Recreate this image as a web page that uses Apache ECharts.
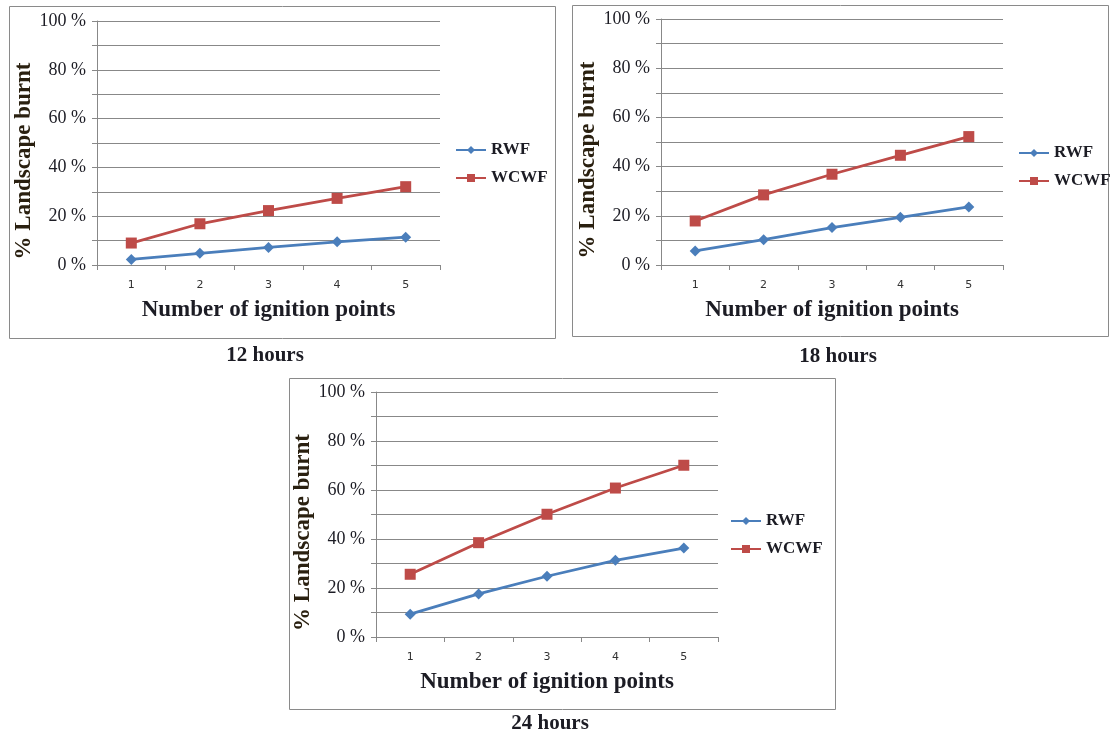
<!DOCTYPE html>
<html>
<head>
<meta charset="utf-8">
<script src="https://cdn.jsdelivr.net/npm/echarts@6/dist/echarts.min.js"></script>
<style>
html,body{margin:0;padding:0;background:#fff;}
#main{width:1111px;height:738px;}
</style>
</head>
<body>
<div id="main"></div>
<script>
// ---- data ----
var categories = ['1', '2', '3', '4', '5'];
var panelTitles = ['12 hours', '18 hours', '24 hours'];
var seriesNames = ['RWF', 'WCWF'];
var rwf12 = [2.3, 4.8, 7.2, 9.5, 11.4];
var wcwf12 = [9.0, 16.9, 22.3, 27.3, 32.1];
var rwf18 = [5.7, 10.3, 15.2, 19.4, 23.6];
var wcwf18 = [17.9, 28.5, 36.9, 44.6, 52.2];
var rwf24 = [9.3, 17.6, 24.8, 31.3, 36.3];
var wcwf24 = [25.6, 38.5, 50.1, 60.8, 70.1];
var yTicks = [0, 20, 40, 60, 80, 100];
var yTitle = '% Landscape burnt';
var xTitle = 'Number of ignition points';

// ---- layout ----
var panels = [
  {grid: {left: 97, top: 21, width: 343, height: 244}, frame: [7, 4, 546, 332], legend: [455, 150], caption: [265, 356], rwf: rwf12, wcwf: wcwf12},
  {grid: {left: 661, top: 19, width: 342, height: 246}, frame: [570, 3, 536, 331], legend: [1018, 153], caption: [838, 357], rwf: rwf18, wcwf: wcwf18},
  {grid: {left: 376, top: 392, width: 342, height: 245}, frame: [287, 376, 546, 331], legend: [730, 521], caption: [550, 724], rwf: rwf24, wcwf: wcwf24}
];

var SERIF = '"Liberation Serif", "Times New Roman", serif';
var TXT = '#1c1c24';
var GRIDC = '#888888';
var BLUE = '#4a7ebb';
var RED = '#be4b48';

var grids = [], xAxes = [], yAxes = [], series = [], legends = [], graphics = [];
panels.forEach(function (p, i) {
  grids.push(p.grid);
  xAxes.push({
    type: 'category', gridIndex: i, data: categories, boundaryGap: true,
    axisLine: {lineStyle: {color: GRIDC, width: 1}},
    axisTick: {show: true, length: 5, lineStyle: {color: GRIDC}},
    axisLabel: {color: '#333', fontFamily: 'DejaVu Sans, sans-serif', fontSize: 11, margin: 15},
    name: xTitle, nameLocation: 'middle', nameGap: 34,
    nameTextStyle: {fontFamily: SERIF, fontWeight: 'bold', fontSize: 23, color: TXT}
  });
  yAxes.push({
    type: 'value', gridIndex: i, min: 0, max: 100, interval: 10,
    axisLine: {show: true, lineStyle: {color: GRIDC, width: 1}},
    axisTick: {show: true, length: 5, inside: false, lineStyle: {color: GRIDC}},
    splitLine: {show: true, lineStyle: {color: GRIDC, width: 1}},
    axisLabel: {
      color: TXT, fontFamily: SERIF, fontSize: 18, margin: 11,
      formatter: function (v) { return yTicks.indexOf(v) >= 0 ? v + ' %' : ''; }
    },
    name: yTitle, nameLocation: 'middle', nameGap: 60, nameRotate: 90,
    nameTextStyle: {fontFamily: SERIF, fontWeight: 'bold', fontSize: 23, color: '#2a2010', padding: [0, 36, 0, 0]}
  });
  series.push({
    name: seriesNames[0], type: 'line', xAxisIndex: i, yAxisIndex: i, data: p.rwf,
    symbol: 'diamond', symbolSize: 11, color: BLUE,
    lineStyle: {width: 2.8, color: BLUE}, itemStyle: {color: BLUE}, animation: false
  });
  series.push({
    name: seriesNames[1], type: 'line', xAxisIndex: i, yAxisIndex: i, data: p.wcwf,
    symbol: 'rect', symbolSize: 11, color: RED,
    lineStyle: {width: 2.8, color: RED}, itemStyle: {color: RED}, animation: false
  });
  [0, 1].forEach(function (k) {
    legends.push({
      data: [seriesNames[k]], left: p.legend[0], top: p.legend[1] + k * 28 - 10,
      orient: 'vertical', padding: 0, itemWidth: 30, itemHeight: 10, itemGap: 6,
      selectedMode: false,
      textStyle: {fontFamily: SERIF, fontWeight: 'bold', fontSize: 17, color: TXT, lineHeight: 20}
    });
  });
  graphics.push({
    type: 'rect', left: p.frame[0], top: p.frame[1], silent: true, z: -10,
    shape: {width: p.frame[2], height: p.frame[3]},
    style: {fill: 'none', stroke: '#8a8a8a', lineWidth: 1}
  });
  graphics.push({
    type: 'text', x: p.caption[0], y: p.caption[1], silent: true,
    style: {text: panelTitles[i], font: 'bold 21px ' + SERIF, fill: TXT, textAlign: 'center', textVerticalAlign: 'middle'}
  });
});

var chart = echarts.init(document.getElementById('main'), null, {renderer: 'canvas'});
chart.setOption({
  animation: false,
  backgroundColor: '#ffffff',
  grid: grids, xAxis: xAxes, yAxis: yAxes, series: series,
  legend: legends, graphic: graphics
});
</script>
</body>
</html>
